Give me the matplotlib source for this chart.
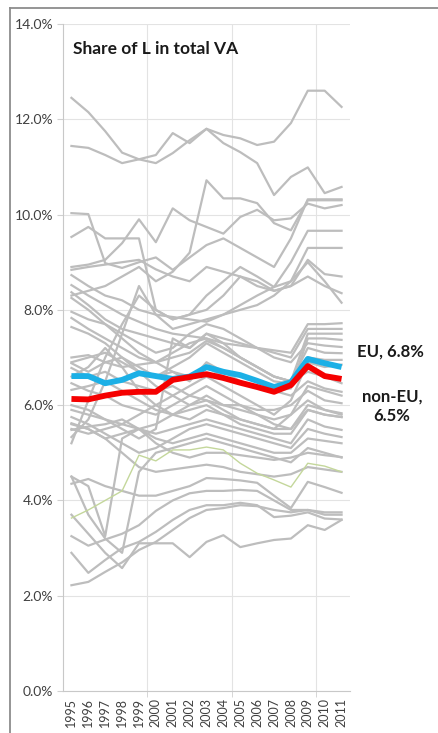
import matplotlib
matplotlib.use("Agg")
import matplotlib.pyplot as plt
from matplotlib.lines import Line2D

plt.rcParams["font.family"] = ["Lato", "DejaVu Sans"]

years = [str(y) for y in range(1995, 2012)]

# highlighted averages
eu = [6.61, 6.61, 6.46, 6.53, 6.67, 6.61, 6.55, 6.60, 6.80, 6.70, 6.63, 6.51, 6.38, 6.48, 6.97, 6.88, 6.80]
non_eu = [6.13, 6.12, 6.20, 6.26, 6.28, 6.28, 6.53, 6.59, 6.65, 6.57, 6.47, 6.38, 6.28, 6.42, 6.82, 6.61, 6.55]
green = [3.63, 3.80, 4.00, 4.20, 4.95, 4.83, 5.06, 5.06, 5.12, 5.06, 4.78, 4.57, 4.43, 4.28, 4.78, 4.72, 4.60]

# individual countries (grey)
top_a = [12.45, 12.15, 11.75, 11.30, 11.16, 11.08, 11.29, 11.56, 11.80, 11.67, 11.60, 11.46, 11.53, 11.92, 12.60, 12.60, 12.26]
top_b = [11.44, 11.40, 11.25, 11.08, 11.16, 11.25, 11.71, 11.50, 11.80, 11.50, 11.31, 11.08, 10.41, 10.79, 10.99, 10.45, 10.58]
line_c = [10.03, 10.01, 8.98, 8.88, 9.00, 9.10, 8.84, 9.10, 9.36, 9.50, 9.30, 9.10, 8.90, 9.50, 10.32, 10.32, 10.32]
line_d = [8.30, 8.40, 8.50, 8.70, 8.90, 8.60, 8.80, 9.20, 10.72, 10.34, 10.34, 10.24, 9.82, 9.67, 10.30, 10.30, 10.30]
line_e = [9.53, 9.74, 9.50, 9.50, 9.50, 8.00, 7.80, 7.90, 8.00, 8.30, 8.70, 8.50, 8.40, 8.50, 8.70, 8.50, 8.35]
line_f = [8.90, 8.95, 9.05, 9.40, 9.90, 9.42, 10.13, 9.88, 9.74, 9.60, 9.95, 10.10, 9.88, 9.92, 10.23, 10.13, 10.20]
m1 = [8.84, 8.90, 8.95, 9.00, 9.05, 8.85, 8.70, 8.60, 8.90, 8.80, 8.70, 8.60, 8.40, 8.50, 9.05, 8.75, 8.70]
m2 = [8.73, 8.50, 8.30, 8.20, 8.00, 7.90, 7.85, 7.80, 7.75, 7.90, 8.10, 8.30, 8.48, 8.60, 9.00, 8.60, 8.15]
m3 = [8.52, 8.30, 8.10, 7.90, 7.75, 7.60, 7.50, 7.45, 7.40, 7.30, 7.25, 7.20, 7.15, 7.10, 7.70, 7.70, 7.72]
m4 = [8.37, 8.10, 7.80, 7.60, 7.50, 7.40, 7.30, 7.20, 7.50, 7.30, 7.00, 6.80, 6.60, 6.50, 7.50, 7.50, 7.50]
m5 = [8.25, 8.00, 7.70, 7.40, 7.10, 6.90, 6.70, 6.60, 6.80, 6.60, 6.50, 6.40, 6.30, 6.35, 7.40, 7.40, 7.37]
m6 = [7.96, 7.80, 7.70, 7.50, 7.30, 7.10, 7.20, 7.50, 7.70, 7.60, 7.40, 7.20, 7.00, 6.90, 7.30, 7.25, 7.22]
m7 = [7.83, 7.60, 7.40, 7.20, 7.00, 6.90, 7.10, 7.30, 7.40, 7.20, 7.00, 6.80, 6.60, 6.50, 7.20, 7.10, 7.09]
m8 = [7.64, 7.50, 7.30, 7.00, 6.70, 6.60, 6.80, 7.00, 7.30, 7.10, 6.90, 6.70, 6.50, 6.45, 7.00, 6.95, 6.95]
m9 = [7.00, 7.05, 6.90, 6.80, 6.85, 6.90, 7.00, 7.10, 7.35, 7.20, 7.00, 6.80, 6.60, 6.50, 6.70, 6.60, 6.46]
m10 = [6.88, 6.70, 6.90, 7.00, 6.80, 6.60, 6.70, 6.50, 6.90, 6.70, 6.50, 6.40, 6.30, 6.20, 6.50, 6.35, 6.28]
m11 = [6.78, 6.60, 6.70, 6.50, 6.40, 6.30, 6.40, 6.20, 6.10, 6.00, 6.00, 5.90, 5.90, 6.00, 6.30, 6.10, 6.04]
m12 = [6.46, 6.30, 6.20, 6.00, 5.90, 5.80, 6.00, 6.20, 6.40, 6.20, 6.00, 5.80, 5.70, 5.80, 6.10, 5.90, 5.83]
m13 = [6.32, 6.40, 6.50, 6.30, 6.10, 5.90, 5.80, 5.70, 5.90, 5.80, 5.60, 5.50, 5.40, 5.40, 5.90, 5.80, 5.75]
m14 = [5.90, 5.80, 5.70, 5.60, 5.50, 5.40, 5.50, 5.60, 5.70, 5.60, 5.50, 5.40, 5.30, 5.20, 5.70, 5.55, 5.48]
m15 = [5.75, 5.60, 5.40, 5.20, 5.00, 5.10, 5.30, 5.50, 5.60, 5.50, 5.40, 5.30, 5.20, 5.10, 5.50, 5.40, 5.33]
m16 = [5.62, 5.50, 5.30, 5.40, 5.50, 5.30, 5.20, 5.30, 5.40, 5.30, 5.20, 5.10, 5.00, 5.00, 5.30, 5.25, 5.20]
m17 = [5.48, 5.55, 5.60, 5.70, 5.50, 5.20, 5.00, 4.90, 5.00, 5.00, 4.95, 4.90, 4.85, 4.90, 5.00, 4.95, 4.91]
m18 = [5.33, 5.70, 6.50, 7.50, 8.50, 7.90, 7.60, 7.70, 7.80, 7.90, 8.00, 8.10, 8.30, 8.60, 9.30, 9.30, 9.30]
m19 = [5.20, 6.10, 7.00, 7.70, 8.30, 8.00, 7.80, 7.90, 8.30, 8.60, 8.90, 8.70, 8.48, 9.00, 9.66, 9.66, 9.66]
m20 = [6.00, 5.90, 5.70, 5.50, 5.30, 5.50, 7.40, 7.20, 7.50, 7.40, 7.30, 7.20, 7.10, 7.00, 7.60, 7.60, 7.60]
m21 = [6.90, 7.00, 7.10, 6.90, 6.70, 6.40, 6.20, 6.00, 6.10, 5.90, 5.70, 5.60, 5.50, 5.80, 6.40, 6.30, 6.20]
m22 = [6.60, 6.80, 7.20, 6.80, 6.30, 6.00, 5.80, 5.90, 6.00, 5.80, 5.70, 5.60, 5.50, 5.50, 5.90, 5.80, 5.75]
m23 = [5.50, 5.40, 5.50, 5.60, 5.80, 6.00, 6.20, 6.40, 6.60, 6.40, 6.20, 6.00, 5.80, 6.10, 6.90, 6.80, 6.85]
g2 = [5.60, 5.50, 5.30, 5.00, 4.70, 4.60, 4.65, 4.70, 4.75, 4.70, 4.60, 4.55, 4.50, 4.55, 4.70, 4.65, 4.60]
low1 = [4.50, 4.30, 3.25, 5.30, 5.50, 5.60, 5.80, 6.00, 6.20, 6.00, 5.90, 5.80, 5.60, 5.50, 6.00, 5.90, 5.80]
low2 = [4.35, 4.45, 4.30, 4.20, 4.10, 4.10, 4.20, 4.30, 4.47, 4.45, 4.42, 4.37, 4.10, 3.84, 4.39, 4.28, 4.16]
low3 = [4.50, 3.70, 3.20, 2.90, 4.60, 5.00, 5.10, 5.20, 5.30, 5.20, 5.10, 5.00, 4.90, 4.80, 5.10, 5.00, 4.90]
bot1 = [2.22, 2.29, 2.50, 2.70, 2.96, 3.13, 3.38, 3.63, 3.80, 3.84, 3.90, 3.88, 3.80, 3.75, 3.80, 3.70, 3.70]
bot2 = [2.90, 2.48, 2.75, 3.00, 3.13, 3.34, 3.59, 3.80, 3.90, 3.90, 3.95, 3.90, 3.65, 3.68, 3.75, 3.62, 3.60]
bot3 = [3.70, 3.30, 2.90, 2.58, 3.10, 3.10, 3.10, 2.81, 3.13, 3.27, 3.02, 3.10, 3.17, 3.20, 3.48, 3.38, 3.59]
bot4 = [3.25, 3.05, 3.18, 3.30, 3.48, 3.78, 4.00, 4.15, 4.20, 4.20, 4.22, 4.20, 4.00, 3.80, 3.80, 3.75, 3.75]

grey_series = [top_a, top_b, line_c, line_d, line_e, line_f, m1, m2, m3, m4, m5, m6, m7, m8,
               m9, m10, m11, m12, m13, m14, m15, m16, m17, m18, m19, m20, m21, m22, m23,
               g2, low1, low2, low3, bot1, bot2, bot3, bot4]

fig = plt.figure(figsize=(4.38, 7.33), dpi=100)
ax = fig.add_axes([63 / 438, 42 / 733, 287 / 438, 667 / 733])

# outer chart frame: only top and left edges are visible in the crop
fx, fy = 10 / 438, 1 - 8 / 733
fig.add_artist(Line2D([fx, 1.0], [fy, fy], transform=fig.transFigure, color="#8c8c8c", linewidth=1.3))
fig.add_artist(Line2D([fx, fx], [0, fy], transform=fig.transFigure, color="#8c8c8c", linewidth=1.3))

x = list(range(len(years)))
for s in grey_series:
    ax.plot(x, s, color="#bdbdbd", linewidth=1.6, zorder=2)
ax.plot(x, green, color="#c4d79b", linewidth=1.0, zorder=3)
ax.plot(x, eu, color="#1cb0e6", linewidth=4.2, zorder=4, solid_capstyle="butt")
ax.plot(x, non_eu, color="#f50000", linewidth=4.2, zorder=5, solid_capstyle="butt")

ax.set_xlim(-0.5, 16.5)
ax.set_ylim(0, 14)
ax.set_yticks([0, 2, 4, 6, 8, 10, 12, 14])
ax.set_yticklabels(["%.1f%%" % v for v in [0, 2, 4, 6, 8, 10, 12, 14]], fontsize=10, color="#404040")
ax.set_xticks(x)
ax.set_xticklabels(years, rotation=90, fontsize=9, color="#404040")
ax.tick_params(axis="x", which="major", length=0, pad=5)
ax.set_xticks([4.5, 9.5, 14.5], minor=True)
ax.tick_params(axis="x", which="minor", length=4, color="#d0d0d0")
ax.tick_params(axis="y", length=4, color="#d0d0d0", pad=3)

ax.grid(axis="y", color="#e3e3e3", linewidth=0.8, zorder=0)
ax.grid(axis="x", which="minor", color="#e3e3e3", linewidth=0.8, zorder=0)
for sp in ["top", "right"]:
    ax.spines[sp].set_visible(False)
ax.spines["left"].set_color("#c8c8c8")
ax.spines["bottom"].set_color("#c8c8c8")

ax.text(0.035, 0.962, "Share of L in total VA", transform=ax.transAxes, fontsize=12.5,
        fontweight="bold", color="#1a1a1a", va="center", ha="left")

fig.text(357 / 438, 1 - 352 / 733, "EU, 6.8%", fontsize=12, fontweight="bold",
         color="#1a1a1a", va="center", ha="left")
fig.text(392 / 438, 1 - 406 / 733, "non-EU,\n6.5%", fontsize=12, fontweight="bold",
         color="#1a1a1a", va="center", ha="center", linespacing=1.3)

fig.savefig("out.png", dpi=100)
